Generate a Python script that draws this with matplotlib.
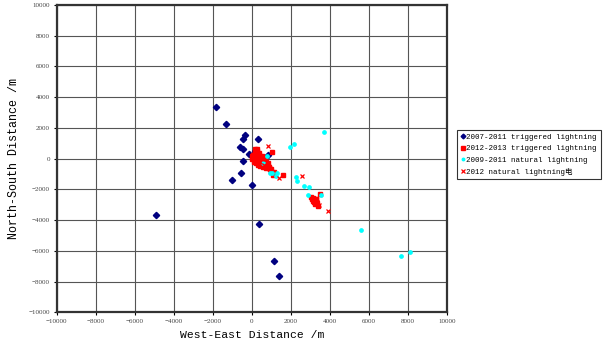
import numpy as np
import matplotlib
matplotlib.use('Agg')
import matplotlib.pyplot as plt

# 2007-2011 triggered lightning
trig_old_x = [-1850, -1320, -380, -460, 290, -590, -450, -170, 150, 820, -480, -580, -1010, -20, -4890, 360, 1130, 1370]
trig_old_y = [3360, 2280, 1520, 1300, 1260, 790, 650, 300, 530, 220, -170, -960, -1410, -1720, -3640, -4230, -6640, -7610]

# 2012-2013 triggered lightning
trig_new_x = [50, 120, 180, 230, 300, 350, 400, 450, 500, 560, 620, 680, 740, 800, 870, 950, 100, 200, 260, 330,
              420, 480, 540, 600, 150, 250, 380, 460, 700, 1050, 1100, 1580, 970, 3100, 3200, 3250, 3300, 3350,
              3150, 3220, 3480, 3050, 3380, 0, 80, 20, 160, 280, 350, 520, 650, 720, 900, 430, 300, 200,
              60, 380, 580, 820, 1000, 1150, 250, 150, 650, 3120, 3280, 3180]
trig_new_y = [250, 150, 300, 100, 0, -80, 50, -150, -200, -250, -300, -350, -450, -500, -550, -650, -50, -100, 200, -200,
              -100, -300, -350, -400, 400, 50, -250, 0, -600, 460, -1040, -1040, -650, -2650, -2700, -2800, -2600, -2900,
              -2550, -2950, -2280, -2500, -3050, 0, -200, 150, 450, 500, 350, 200, -100, -200, -700, -450, -400, -300,
              100, 250, -550, -300, -800, -900, 600, 650, 50, -2750, -2650, -2850]

# 2009-2011 natural lightning
nat_old_x = [3680, 2140, 1970, 790, 585, 930, 1300, 1240, 1010, 2260, 2330, 2690, 2910, 2880, 3560, 5580, 7610, 8070]
nat_old_y = [1760, 940, 780, 190, -260, -910, -910, -1130, -910, -1210, -1470, -1780, -1860, -2360, -2380, -4640, -6350, -6090]

# 2012 natural lightning
nat_new_x = [810, 1390, 2550, 3870, 3410, 200, 400, 600, 300, 3250, 3100, 3350, 500, 150, 700, 250]
nat_new_y = [830, -1260, -1110, -3380, -3010, 100, -200, -400, 300, -2750, -2600, -2850, 0, -150, -600, 500]

ticks = list(range(-10000, 10001, 2000))
labels = ['2007-2011 triggered lightning', '2012-2013 triggered lightning',
          '2009-2011 natural lightning', '2012 natural lightning电']

plt.rcParams['font.family'] = ['Liberation Mono', 'Noto Sans CJK SC', 'DejaVu Sans']

fig = plt.figure(figsize=(6.13, 3.51), dpi=100)
ax = fig.add_axes([0.0925, 0.110, 0.637, 0.876])

ax.plot(trig_old_x, trig_old_y, 'D', color='#000080', ms=3.2, ls='none', label=labels[0])
ax.plot(trig_new_x, trig_new_y, 's', color='#ff0000', ms=3.2, ls='none', label=labels[1])
ax.plot(nat_old_x, nat_old_y, 'o', color='#00ffff', ms=2.4, ls='none', label=labels[2])
ax.plot(nat_new_x, nat_new_y, 'x', color='#ff0000', ms=3.5, mew=0.9, ls='none', label=labels[3])

ax.set_xlim(-10000, 10000)
ax.set_ylim(-10000, 10000)
ax.set_xticks(ticks)
ax.set_yticks(ticks)
ax.grid(True, color='#555555', lw=0.8)
ax.set_axisbelow(True)
for s in ax.spines.values():
    s.set_linewidth(1.6)
    s.set_color('#333333')
ax.tick_params(length=2, width=0.8, labelsize=5, labelcolor='#444444', pad=3)
for lab in ax.get_xticklabels() + ax.get_yticklabels():
    lab.set_family('Liberation Serif')

ax.set_xlabel('West-East Distance /m', fontsize=8.2, labelpad=4)
ax.set_ylabel('North-South Distance /m', fontsize=8.4, labelpad=6)

leg = fig.legend(loc='upper left', bbox_to_anchor=(0.745, 0.630), fontsize=5.4,
                 frameon=True, fancybox=False, handlelength=0.6, handletextpad=0.2,
                 borderpad=0.5, labelspacing=0.55, borderaxespad=0, markerscale=0.75)
leg.get_frame().set_edgecolor('black')
leg.get_frame().set_linewidth(0.8)

fig.savefig('out.png', dpi=100)
